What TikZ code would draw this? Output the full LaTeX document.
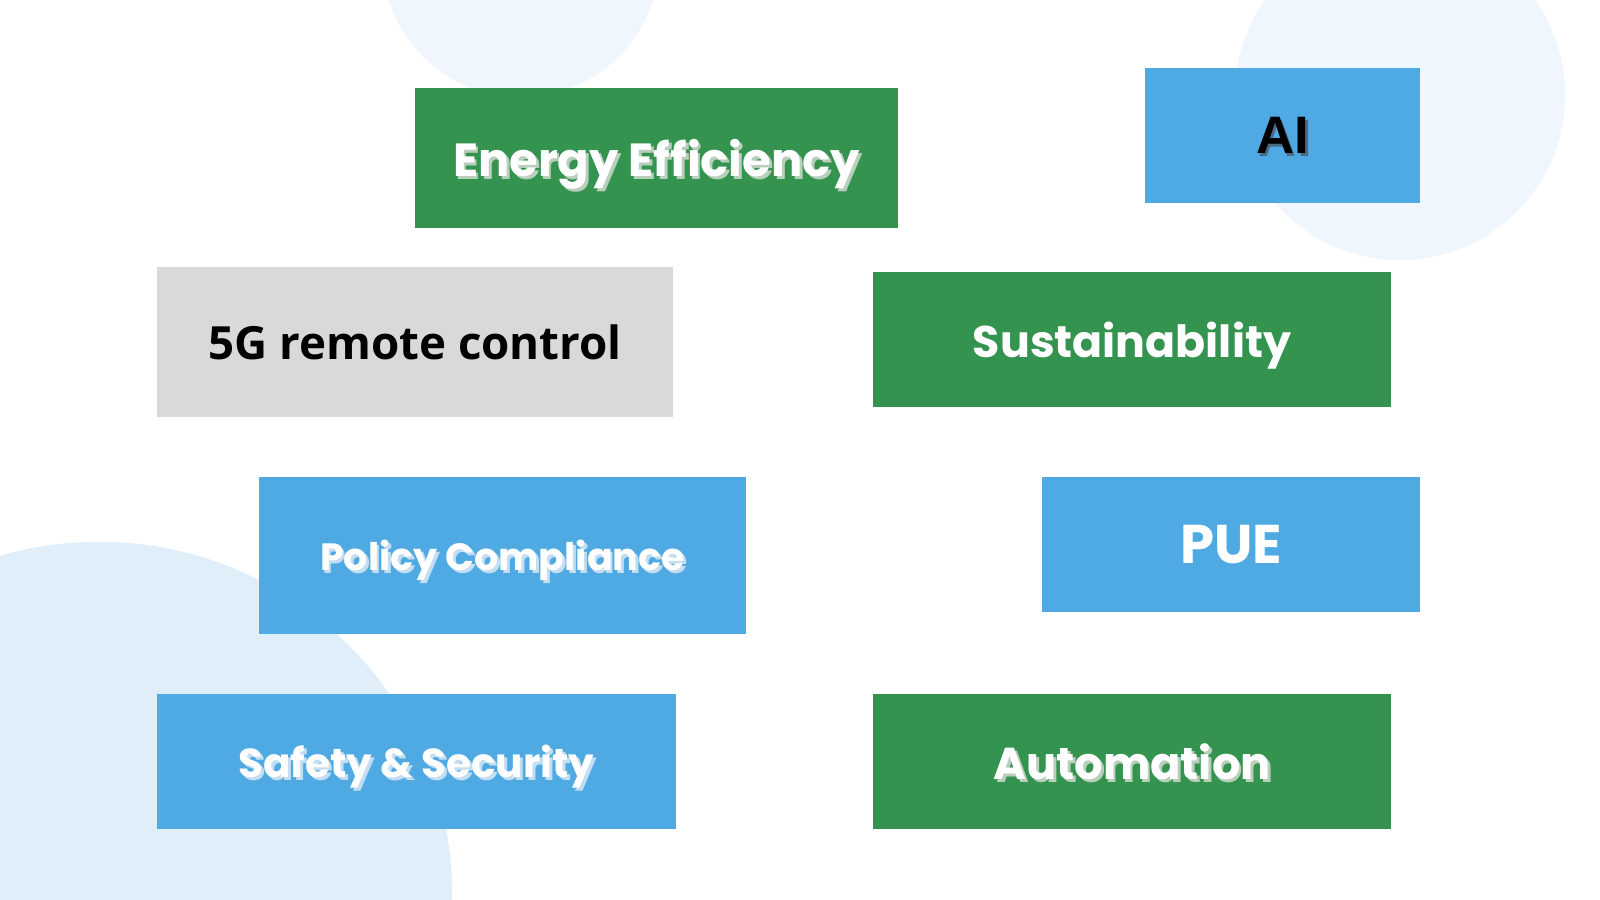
\documentclass[tikz,border=0pt]{standalone}
\usepackage{fontspec}
\setmainfont{Poppins}
\newfontfamily\plainfont{Open Sans}
\newfontfamily\heavyfont{Liberation Sans}
\definecolor{leafgreen}{HTML}{33934F}
\definecolor{skyblue}{HTML}{4FAAE3}
\definecolor{paleash}{HTML}{D8DADA}
\definecolor{mist}{HTML}{EFF6FD}
\definecolor{mistdeep}{HTML}{DFEEF9}
\definecolor{greenshade}{HTML}{B9CFBC}
\definecolor{blueshade}{HTML}{C3DDF2}
\definecolor{inkshade}{HTML}{4A6A82}
% text with a small drop shadow: #1 shadow colour, #2 text colour, #3 text
\newcommand{\dropped}[3]{\rlap{\kern0.8pt\raisebox{-0.8pt}{\color{#1}#3}}{\color{#2}#3}}
\begin{document}
\begin{tikzpicture}[x=0.01cm,y=-0.01cm,
	tag/.style={rectangle,inner sep=0pt,text depth=0pt,font=\bfseries},
	fs/.style={font=\fontsize{#1}{#1}\selectfont\bfseries}]
	\useasboundingbox (0,0) rectangle (1600,900);
	\clip (0,0) rectangle (1600,900);
	\fill[white] (0,0) rectangle (1600,900);
	\fill[mist] (521,-41) circle (1.38cm) (1400,95) circle (1.65cm);
	\fill[mistdeep] (99,895) circle (3.53cm);
	\node[tag,fs=13.2pt,fill=leafgreen,minimum width=4.83cm,minimum height=1.40cm] (energy) at (656.5,158) {\dropped{greenshade}{white}{Energy Efficiency}};
	\node[tag,fill=skyblue,minimum width=2.75cm,minimum height=1.35cm,font=\heavyfont\fontsize{15pt}{15pt}\selectfont\bfseries] (ai) at (1282.5,135.5) {\dropped{inkshade}{black}{AI}};
	\node[tag,fill=paleash,minimum width=5.16cm,minimum height=1.50cm,font=\plainfont\fontsize{13pt}{13pt}\selectfont\bfseries] (remote) at (415,342) {5G remote control};
	\node[tag,fs=12.6pt,fill=leafgreen,text=white,minimum width=5.18cm,minimum height=1.35cm] (sustain) at (1132,339.5) {Sustainability};
	\node[tag,fs=10.8pt,fill=skyblue,minimum width=4.87cm,minimum height=1.57cm] (policy) at (502.5,555.5) {\dropped{blueshade}{white}{Policy Compliance}};
	\node[tag,fs=15.5pt,fill=skyblue,text=white,minimum width=3.78cm,minimum height=1.35cm] (pue) at (1231,544.5) {PUE};
	\node[tag,fs=11.5pt,fill=skyblue,minimum width=5.19cm,minimum height=1.35cm] (safety) at (416.5,761.5) {\dropped{blueshade}{white}{Safety \& Security}};
	\node[tag,fs=12.7pt,fill=leafgreen,minimum width=5.18cm,minimum height=1.35cm] (auto) at (1132,761.5) {\dropped{greenshade}{white}{Automation}};
\end{tikzpicture}
\end{document}
